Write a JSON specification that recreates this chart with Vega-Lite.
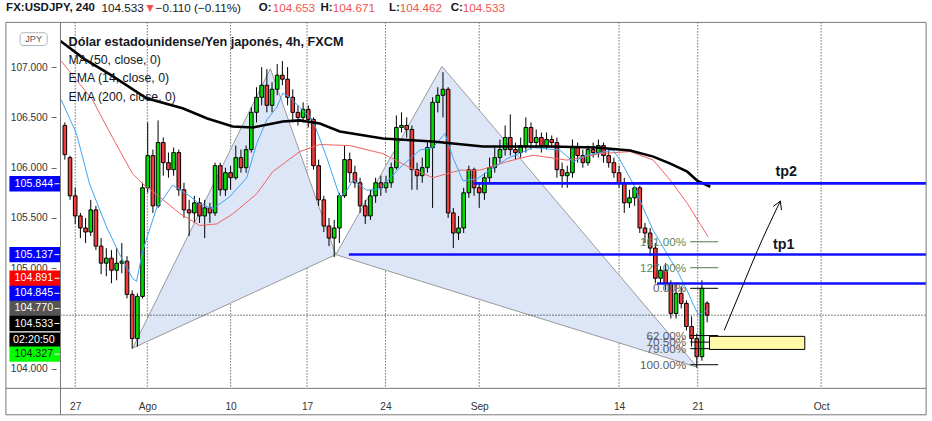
{
"$schema":"https://vega.github.io/schema/vega-lite/v6.json",
"width":932,"height":421,
"autosize":"none",
"padding":0,
"background":"white",
"config":{"view":{"stroke":null}},
"resolve":{"axis":{"x":"independent","y":"independent"}},
"datasets":{
"candles":[
{"d":-0.667,"o":106.42,"h":106.45,"l":106.08,"c":106.13},
{"d":-0.333,"o":106.10,"h":106.12,"l":105.68,"c":105.72},
{"d":0,"o":105.72,"h":105.80,"l":105.44,"c":105.52},
{"d":0.333,"o":105.52,"h":105.55,"l":105.30,"c":105.40},
{"d":0.667,"o":105.40,"h":105.50,"l":105.25,"c":105.36},
{"d":1.0,"o":105.36,"h":105.68,"l":105.32,"c":105.58},
{"d":1.333,"o":105.58,"h":105.62,"l":105.18,"c":105.22},
{"d":1.667,"o":105.22,"h":105.30,"l":104.94,"c":105.05},
{"d":2.0,"o":105.05,"h":105.20,"l":104.92,"c":105.10},
{"d":2.333,"o":105.10,"h":105.18,"l":104.85,"c":104.98},
{"d":2.667,"o":104.98,"h":105.20,"l":104.88,"c":105.05},
{"d":3.0,"o":105.05,"h":105.25,"l":104.95,"c":105.07},
{"d":3.333,"o":105.07,"h":105.12,"l":104.70,"c":104.74},
{"d":3.667,"o":104.74,"h":104.78,"l":104.20,"c":104.30},
{"d":4.0,"o":104.30,"h":104.75,"l":104.22,"c":104.72},
{"d":4.333,"o":104.72,"h":105.85,"l":104.70,"c":105.80},
{"d":4.667,"o":105.80,"h":106.45,"l":105.75,"c":106.12},
{"d":5.0,"o":106.12,"h":106.18,"l":105.55,"c":105.62},
{"d":5.333,"o":105.62,"h":106.47,"l":105.60,"c":106.25},
{"d":5.667,"o":106.25,"h":106.30,"l":105.92,"c":106.05},
{"d":6.0,"o":106.05,"h":106.15,"l":105.90,"c":105.98},
{"d":6.333,"o":105.98,"h":106.20,"l":105.92,"c":106.15},
{"d":6.667,"o":106.15,"h":106.18,"l":105.72,"c":105.78},
{"d":7.0,"o":105.78,"h":105.85,"l":105.50,"c":105.58},
{"d":7.333,"o":105.58,"h":105.68,"l":105.32,"c":105.55},
{"d":7.667,"o":105.55,"h":105.72,"l":105.45,"c":105.65},
{"d":8.0,"o":105.65,"h":105.70,"l":105.45,"c":105.52},
{"d":8.333,"o":105.52,"h":105.68,"l":105.30,"c":105.60},
{"d":8.667,"o":105.60,"h":105.65,"l":105.45,"c":105.55},
{"d":9.0,"o":105.55,"h":106.05,"l":105.52,"c":106.02},
{"d":9.333,"o":106.02,"h":106.05,"l":105.72,"c":105.78},
{"d":9.667,"o":105.78,"h":106.00,"l":105.72,"c":105.95},
{"d":10.0,"o":105.95,"h":106.02,"l":105.78,"c":105.90},
{"d":10.333,"o":105.90,"h":106.22,"l":105.88,"c":106.10},
{"d":10.667,"o":106.10,"h":106.18,"l":105.95,"c":106.00},
{"d":11.0,"o":106.00,"h":106.22,"l":105.95,"c":106.18},
{"d":11.333,"o":106.18,"h":106.60,"l":106.15,"c":106.55},
{"d":11.667,"o":106.55,"h":106.80,"l":106.45,"c":106.70},
{"d":12.0,"o":106.70,"h":107.00,"l":106.62,"c":106.82},
{"d":12.333,"o":106.82,"h":106.98,"l":106.55,"c":106.62},
{"d":12.667,"o":106.62,"h":106.85,"l":106.55,"c":106.78},
{"d":13.0,"o":106.78,"h":107.03,"l":106.72,"c":106.92},
{"d":13.333,"o":106.92,"h":107.06,"l":106.82,"c":106.88},
{"d":13.667,"o":106.88,"h":107.00,"l":106.62,"c":106.70},
{"d":14.0,"o":106.70,"h":106.78,"l":106.45,"c":106.55},
{"d":14.333,"o":106.55,"h":106.62,"l":106.42,"c":106.50},
{"d":14.667,"o":106.50,"h":106.65,"l":106.45,"c":106.58},
{"d":15.0,"o":106.58,"h":106.62,"l":106.40,"c":106.48},
{"d":15.333,"o":106.48,"h":106.50,"l":105.98,"c":106.02},
{"d":15.667,"o":106.02,"h":106.08,"l":105.62,"c":105.68},
{"d":16.0,"o":105.68,"h":105.72,"l":105.36,"c":105.42},
{"d":16.333,"o":105.42,"h":105.50,"l":105.22,"c":105.30},
{"d":16.667,"o":105.30,"h":105.48,"l":105.11,"c":105.40},
{"d":17.0,"o":105.40,"h":105.75,"l":105.25,"c":105.72},
{"d":17.333,"o":105.72,"h":106.22,"l":105.70,"c":106.08},
{"d":17.667,"o":106.08,"h":106.15,"l":105.85,"c":105.95},
{"d":18.0,"o":105.95,"h":106.02,"l":105.80,"c":105.85},
{"d":18.333,"o":105.85,"h":105.90,"l":105.55,"c":105.62},
{"d":18.667,"o":105.62,"h":105.68,"l":105.44,"c":105.52},
{"d":19.0,"o":105.52,"h":105.78,"l":105.48,"c":105.72},
{"d":19.333,"o":105.72,"h":105.90,"l":105.65,"c":105.85},
{"d":19.667,"o":105.85,"h":105.92,"l":105.72,"c":105.80},
{"d":20.0,"o":105.80,"h":105.92,"l":105.75,"c":105.85},
{"d":20.333,"o":105.85,"h":106.05,"l":105.80,"c":106.00},
{"d":20.667,"o":106.00,"h":106.52,"l":105.98,"c":106.40},
{"d":21.0,"o":106.40,"h":106.55,"l":106.35,"c":106.42},
{"d":21.333,"o":106.42,"h":106.50,"l":106.30,"c":106.38},
{"d":21.667,"o":106.38,"h":106.42,"l":105.78,"c":105.98},
{"d":22.0,"o":105.98,"h":106.05,"l":105.78,"c":105.92},
{"d":22.333,"o":105.92,"h":106.10,"l":105.85,"c":106.00},
{"d":22.667,"o":106.00,"h":106.25,"l":105.95,"c":106.20},
{"d":23.0,"o":106.20,"h":106.70,"l":105.60,"c":106.65},
{"d":23.333,"o":106.65,"h":106.80,"l":106.55,"c":106.72},
{"d":23.667,"o":106.72,"h":106.95,"l":106.50,"c":106.78},
{"d":24.0,"o":106.78,"h":106.80,"l":105.50,"c":105.55},
{"d":24.333,"o":105.55,"h":105.60,"l":105.20,"c":105.35},
{"d":24.667,"o":105.35,"h":105.52,"l":105.28,"c":105.40},
{"d":25.0,"o":105.40,"h":105.80,"l":105.35,"c":105.75},
{"d":25.333,"o":105.75,"h":106.02,"l":105.70,"c":105.98},
{"d":25.667,"o":105.98,"h":106.00,"l":105.72,"c":105.80},
{"d":26.0,"o":105.80,"h":105.85,"l":105.60,"c":105.75},
{"d":26.333,"o":105.75,"h":105.95,"l":105.68,"c":105.90},
{"d":26.667,"o":105.90,"h":106.10,"l":105.85,"c":106.00},
{"d":27.0,"o":106.00,"h":106.20,"l":105.95,"c":106.10},
{"d":27.333,"o":106.10,"h":106.28,"l":106.05,"c":106.18},
{"d":27.667,"o":106.18,"h":106.42,"l":106.12,"c":106.30},
{"d":28.0,"o":106.30,"h":106.53,"l":106.12,"c":106.18},
{"d":28.333,"o":106.18,"h":106.25,"l":106.08,"c":106.15},
{"d":28.667,"o":106.15,"h":106.30,"l":106.10,"c":106.22},
{"d":29.0,"o":106.22,"h":106.50,"l":106.15,"c":106.40},
{"d":29.333,"o":106.40,"h":106.45,"l":106.18,"c":106.25},
{"d":29.667,"o":106.25,"h":106.38,"l":106.20,"c":106.30},
{"d":30.0,"o":106.30,"h":106.35,"l":106.15,"c":106.22},
{"d":30.333,"o":106.22,"h":106.35,"l":106.18,"c":106.28},
{"d":30.667,"o":106.28,"h":106.32,"l":106.20,"c":106.25},
{"d":31.0,"o":106.25,"h":106.30,"l":105.90,"c":105.98},
{"d":31.333,"o":105.98,"h":106.05,"l":105.80,"c":105.92},
{"d":31.667,"o":105.92,"h":106.02,"l":105.80,"c":105.95},
{"d":32.0,"o":105.95,"h":106.28,"l":105.90,"c":106.20},
{"d":32.333,"o":106.20,"h":106.25,"l":106.05,"c":106.12},
{"d":32.667,"o":106.12,"h":106.18,"l":106.00,"c":106.05},
{"d":33.0,"o":106.05,"h":106.22,"l":106.02,"c":106.18},
{"d":33.333,"o":106.18,"h":106.25,"l":106.10,"c":106.15},
{"d":33.667,"o":106.15,"h":106.28,"l":106.10,"c":106.22},
{"d":34.0,"o":106.22,"h":106.25,"l":106.05,"c":106.12},
{"d":34.333,"o":106.12,"h":106.18,"l":106.00,"c":106.05},
{"d":34.667,"o":106.05,"h":106.10,"l":105.90,"c":105.95},
{"d":35.0,"o":105.95,"h":106.02,"l":105.80,"c":105.85},
{"d":35.333,"o":105.85,"h":105.90,"l":105.55,"c":105.65},
{"d":35.667,"o":105.65,"h":105.78,"l":105.60,"c":105.70},
{"d":36.0,"o":105.70,"h":105.82,"l":105.62,"c":105.80},
{"d":36.333,"o":105.80,"h":105.82,"l":105.35,"c":105.40},
{"d":36.667,"o":105.40,"h":105.45,"l":105.25,"c":105.35},
{"d":37.0,"o":105.35,"h":105.40,"l":105.12,"c":105.20},
{"d":37.333,"o":105.20,"h":105.25,"l":104.85,"c":104.90},
{"d":37.667,"o":104.90,"h":105.02,"l":104.85,"c":104.98},
{"d":38.0,"o":104.98,"h":105.05,"l":104.78,"c":104.85},
{"d":38.333,"o":104.85,"h":104.88,"l":104.50,"c":104.55},
{"d":38.667,"o":104.55,"h":104.85,"l":104.50,"c":104.75},
{"d":39.0,"o":104.75,"h":104.82,"l":104.60,"c":104.65},
{"d":39.333,"o":104.65,"h":104.68,"l":104.38,"c":104.42},
{"d":39.667,"o":104.42,"h":104.52,"l":104.22,"c":104.30},
{"d":40.0,"o":104.30,"h":104.35,"l":104.01,"c":104.12},
{"d":40.333,"o":104.12,"h":104.88,"l":104.08,"c":104.80},
{"d":40.667,"o":104.653,"h":104.671,"l":104.462,"c":104.533}
],
"ma":[
{"s":"ema200","d":-0.95,"v":107.26},{"s":"ema200","d":0.6,"v":107.08},{"s":"ema200","d":2.21,"v":106.93},{"s":"ema200","d":4.59,"v":106.69},{"s":"ema200","d":6.91,"v":106.59},{"s":"ema200","d":8.5,"v":106.49},{"s":"ema200","d":10.14,"v":106.41},{"s":"ema200","d":11.43,"v":106.40},{"s":"ema200","d":13.36,"v":106.46},{"s":"ema200","d":14.45,"v":106.47},{"s":"ema200","d":15.74,"v":106.44},{"s":"ema200","d":17.03,"v":106.36},{"s":"ema200","d":19.8,"v":106.29},{"s":"ema200","d":23.02,"v":106.26},{"s":"ema200","d":26.24,"v":106.21},{"s":"ema200","d":30.56,"v":106.21},{"s":"ema200","d":33.5,"v":106.2},{"s":"ema200","d":35.72,"v":106.17},{"s":"ema200","d":37.2,"v":106.11},{"s":"ema200","d":38.3,"v":106.04},{"s":"ema200","d":39.39,"v":105.96},{"s":"ema200","d":40.03,"v":105.87},{"s":"ema200","d":40.87,"v":105.81},
{"s":"ma50","d":-0.9,"v":107.06},{"s":"ma50","d":1.11,"v":106.675},{"s":"ma50","d":2.4,"v":106.3},{"s":"ma50","d":3.69,"v":105.94},{"s":"ma50","d":4.34,"v":105.84},{"s":"ma50","d":5.43,"v":105.71},{"s":"ma50","d":6.72,"v":105.545},{"s":"ma50","d":8.01,"v":105.425},{"s":"ma50","d":9.1,"v":105.44},{"s":"ma50","d":10.14,"v":105.54},{"s":"ma50","d":11.68,"v":105.74},{"s":"ma50","d":12.71,"v":105.96},{"s":"ma50","d":14.45,"v":106.16},{"s":"ma50","d":15.74,"v":106.23},{"s":"ma50","d":17.67,"v":106.22},{"s":"ma50","d":19.8,"v":106.14},{"s":"ma50","d":21.54,"v":106.0},{"s":"ma50","d":23.02,"v":105.9},{"s":"ma50","d":24.76,"v":105.975},{"s":"ma50","d":26.05,"v":105.975},{"s":"ma50","d":27.79,"v":106.06},{"s":"ma50","d":29.46,"v":106.125},{"s":"ma50","d":31.65,"v":106.075},{"s":"ma50","d":33.78,"v":106.14},{"s":"ma50","d":35.72,"v":106.16},{"s":"ma50","d":37.2,"v":106.075},{"s":"ma50","d":38.3,"v":105.875},{"s":"ma50","d":39.39,"v":105.645},{"s":"ma50","d":40.74,"v":105.31},
{"s":"ema14","d":-0.9,"v":106.675},{"s":"ema14","d":0.08,"v":106.34},{"s":"ema14","d":0.92,"v":105.84},{"s":"ema14","d":2.02,"v":105.41},{"s":"ema14","d":2.85,"v":105.14},{"s":"ema14","d":3.69,"v":104.9},{"s":"ema14","d":3.95,"v":104.87},{"s":"ema14","d":4.34,"v":105.17},{"s":"ema14","d":5.24,"v":105.6},{"s":"ema14","d":6.27,"v":105.825},{"s":"ema14","d":7.17,"v":105.74},{"s":"ema14","d":8.01,"v":105.64},{"s":"ema14","d":8.85,"v":105.59},{"s":"ema14","d":9.94,"v":105.71},{"s":"ema14","d":11.04,"v":105.9},{"s":"ema14","d":11.68,"v":106.24},{"s":"ema14","d":12.33,"v":106.475},{"s":"ema14","d":12.97,"v":106.6},{"s":"ema14","d":13.36,"v":106.74},{"s":"ema14","d":13.81,"v":106.7},{"s":"ema14","d":14.45,"v":106.6},{"s":"ema14","d":15.29,"v":106.475},{"s":"ema14","d":16.19,"v":106.1},{"s":"ema14","d":17.03,"v":105.71},{"s":"ema14","d":17.48,"v":105.775},{"s":"ema14","d":17.87,"v":105.875},{"s":"ema14","d":18.77,"v":105.775},{"s":"ema14","d":19.61,"v":105.79},{"s":"ema14","d":20.9,"v":106.0},{"s":"ema14","d":22.18,"v":106.175},{"s":"ema14","d":23.02,"v":106.2},{"s":"ema14","d":23.79,"v":106.34},{"s":"ema14","d":24.31,"v":106.1},{"s":"ema14","d":24.95,"v":105.87},{"s":"ema14","d":25.86,"v":105.89},{"s":"ema14","d":26.69,"v":105.975},{"s":"ema14","d":27.79,"v":106.09},{"s":"ema14","d":29.46,"v":106.2},{"s":"ema14","d":31.2,"v":106.175},{"s":"ema14","d":32.04,"v":106.06},{"s":"ema14","d":32.94,"v":106.125},{"s":"ema14","d":34.62,"v":106.175},{"s":"ema14","d":35.07,"v":106.075},{"s":"ema14","d":35.91,"v":105.84},{"s":"ema14","d":36.55,"v":105.6},{"s":"ema14","d":37.2,"v":105.375},{"s":"ema14","d":38.1,"v":105.14},{"s":"ema14","d":38.74,"v":104.975},{"s":"ema14","d":39.39,"v":104.775},{"s":"ema14","d":39.77,"v":104.64},{"s":"ema14","d":40.1,"v":104.54},{"s":"ema14","d":40.42,"v":104.55},{"s":"ema14","d":40.74,"v":104.6}
],
"tri":[
{"g":"XAB","d":3.70,"hi":104.205,"lo":104.205},{"g":"XAB","d":12.56,"hi":106.985,"lo":104.835},{"g":"XAB","d":16.77,"hi":105.135,"lo":105.135},
{"g":"BCD","d":16.77,"hi":105.135,"lo":105.135},{"g":"BCD","d":23.60,"hi":107.008,"lo":104.806},{"g":"BCD","d":40.03,"hi":104.015,"lo":104.015}
],
"weeks":[{"d":0},{"d":4.64},{"d":10},{"d":14.92},{"d":19.97},{"d":26},{"d":35},{"d":40.06},{"d":48}],
"hl":[{"p":105.844,"d":25.62},{"p":105.137,"d":17.61},{"p":104.848,"d":37.45}],
"fib":[
{"p":105.263,"t":"161.00%","g":"g"},{"p":105.005,"t":"127.00%","g":"g"},{"p":104.80,"t":"0.00%","g":"k"},{"p":104.33,"t":"62.00%","g":"k"},{"p":104.265,"t":"70.50%","g":"k"},{"p":104.20,"t":"79.00%","g":"k"},{"p":104.04,"t":"100.00%","g":"k"}
],
"zone":[{"d1":40.82,"d2":46.95,"p1":104.322,"p2":104.192}],
"arrow":[{"d":41.77,"p":104.382},{"d":43.0,"p":104.842},{"d":43.9,"p":105.175},{"d":45.38,"p":105.668}],
"head":[{"o":1,"d":44.92,"p":105.614},{"o":2,"d":45.38,"p":105.668},{"o":3,"d":45.45,"p":105.579}],
"tags":[
{"p":105.84,"t":"105.844","k":"blue"},{"p":105.135,"t":"105.137","k":"blue"},{"p":104.90,"t":"104.891","k":"red"},{"p":104.75,"t":"104.845","k":"blue"},{"p":104.60,"t":"104.770","k":"grey"},{"p":104.45,"t":"104.533","k":"black"},{"p":104.285,"t":"02:20:50","k":"clock"},{"p":104.145,"t":"104.327","k":"green"}
],
"txt":[
{"g":"hb","d":-4.446,"p":107.585,"t":"FX:USDJPY, 240"},
{"g":"h","d":1.695,"p":107.585,"t":"104.533"},
{"g":"tri","d":4.594,"p":107.585,"t":"▼"},
{"g":"h","d":5.174,"p":107.585,"t":"−0.110 (−0.11%)"},
{"g":"hb","d":11.81,"p":107.585,"t":"O:"},
{"g":"hr","d":12.72,"p":107.585,"t":"104.653"},
{"g":"hb","d":15.79,"p":107.585,"t":"H:"},
{"g":"hr","d":16.58,"p":107.585,"t":"104.671"},
{"g":"hb","d":20.19,"p":107.585,"t":"L:"},
{"g":"hr","d":20.89,"p":107.585,"t":"104.462"},
{"g":"hb","d":24.16,"p":107.585,"t":"C:"},
{"g":"hr","d":24.94,"p":107.585,"t":"104.533"},
{"g":"lt","d":-0.425,"p":107.25,"t":"Dólar estadounidense/Yen japonés, 4h, FXCM"},
{"g":"l","d":-0.425,"p":107.075,"t":"MA (50, close, 0)"},
{"g":"l","d":-0.425,"p":106.895,"t":"EMA (14, close, 0)"},
{"g":"l","d":-0.425,"p":106.705,"t":"EMA (200, close, 0)"},
{"g":"tp","d":45.76,"p":105.955,"t":"tp2"},
{"g":"tp","d":45.6,"p":105.235,"t":"tp1"}
]
},
"layer":[
{"data":{"name":"weeks"},"mark":{"type":"rule","color":"#000","strokeDash":[1,2],"strokeWidth":1,"opacity":0.85},
 "encoding":{"x":{"field":"d","type":"quantitative","scale":{"domain":[-4.518,54.816],"nice":false,"zero":false},"axis":null},
 "y":{"datum":107.445,"type":"quantitative","scale":{"domain":[103.53,107.618],"nice":false,"zero":false},"axis":null},
 "y2":{"datum":103.805}}},
{"data":{"name":"tri"},"mark":{"type":"area","fill":"#dce6f7","stroke":"#9a9a9a","strokeWidth":1},
 "encoding":{"x":{"field":"d","type":"quantitative","scale":{"domain":[-4.518,54.816],"nice":false,"zero":false},"axis":null},
 "y":{"field":"hi","type":"quantitative","scale":{"domain":[103.53,107.618],"nice":false,"zero":false},"axis":null},
 "y2":{"field":"lo"},"detail":{"field":"g"}}},
{"data":{"name":"candles"},"mark":{"type":"rule","color":"#000","strokeWidth":1},
 "encoding":{"x":{"field":"d","type":"quantitative","scale":{"domain":[-4.518,54.816],"nice":false,"zero":false},"axis":null},
 "y":{"field":"l","type":"quantitative","scale":{"domain":[103.53,107.618],"nice":false,"zero":false},"axis":null},
 "y2":{"field":"h"}}},
{"data":{"name":"candles"},"mark":{"type":"bar","width":3.6,"stroke":"#000","strokeWidth":1},
 "encoding":{"x":{"field":"d","type":"quantitative","scale":{"domain":[-4.518,54.816],"nice":false,"zero":false},
   "axis":{"orient":"bottom","offset":-28.3,"values":[0,4.64,10,14.92,19.97,26,35,40.06,48],"labelExpr":"datum.value<1?'27':datum.value<5?'Ago':datum.value<11?'10':datum.value<15?'17':datum.value<21?'24':datum.value<27?'Sep':datum.value<36?'14':datum.value<41?'21':'Oct'","grid":false,"ticks":false,"tickSize":0,"domain":false,"labelPadding":9,"labelFont":"Liberation Sans","labelFontSize":10.2,"labelColor":"#333","labelFlush":false,"labelOverlap":false,"title":null,"zindex":0}},
 "y":{"field":"o","type":"quantitative","scale":{"domain":[103.53,107.618],"nice":false,"zero":false},
   "axis":{"orient":"left","offset":-56.1,"values":[104,105,105.5,106,106.5,107],"format":".3f","grid":false,"ticks":true,"tickSize":5,"tickColor":"#666","domain":false,"labelPadding":4,"labelFont":"Liberation Sans","labelFontSize":10.2,"labelColor":"#333","labelOverlap":false,"title":null,"zindex":0}},
 "y2":{"field":"c"},
 "fill":{"condition":{"test":"datum.c>=datum.o","value":"#00e000"},"value":"#f23c3c"}}},
{"data":{"name":"ma"},"transform":[{"filter":"datum.s=='ma50'"}],"mark":{"type":"line","color":"#f26262","strokeWidth":1},
 "encoding":{"x":{"field":"d","type":"quantitative","scale":{"domain":[-4.518,54.816],"nice":false,"zero":false},"axis":null},
 "y":{"field":"v","type":"quantitative","scale":{"domain":[103.53,107.618],"nice":false,"zero":false},"axis":null}}},
{"data":{"name":"ma"},"transform":[{"filter":"datum.s=='ema14'"}],"mark":{"type":"line","color":"#3ea6f2","strokeWidth":1},
 "encoding":{"x":{"field":"d","type":"quantitative","scale":{"domain":[-4.518,54.816],"nice":false,"zero":false},"axis":null},
 "y":{"field":"v","type":"quantitative","scale":{"domain":[103.53,107.618],"nice":false,"zero":false},"axis":null}}},
{"data":{"name":"ma"},"transform":[{"filter":"datum.s=='ema200'"}],"mark":{"type":"line","color":"#000","strokeWidth":2.6},
 "encoding":{"x":{"field":"d","type":"quantitative","scale":{"domain":[-4.518,54.816],"nice":false,"zero":false},"axis":null},
 "y":{"field":"v","type":"quantitative","scale":{"domain":[103.53,107.618],"nice":false,"zero":false},"axis":null}}},
{"data":{"name":"hl"},"mark":{"type":"rule","color":"#1010ff","strokeWidth":2.6},
 "encoding":{"x":{"field":"d","type":"quantitative","scale":{"domain":[-4.518,54.816],"nice":false,"zero":false},"axis":null},
 "x2":{"datum":54.759},
 "y":{"field":"p","type":"quantitative","scale":{"domain":[103.53,107.618],"nice":false,"zero":false},"axis":null}}},
{"data":{"name":"fib"},"mark":{"type":"rule","strokeWidth":1},
 "encoding":{"x":{"datum":39.58,"type":"quantitative","scale":{"domain":[-4.518,54.816],"nice":false,"zero":false},"axis":null},
 "x2":{"datum":41.38},
 "y":{"field":"p","type":"quantitative","scale":{"domain":[103.53,107.618],"nice":false,"zero":false},"axis":null},
 "color":{"condition":{"test":"datum.g=='g'","value":"#4b7d4b"},"value":"#000"}}},
{"data":{"name":"fib"},"mark":{"type":"text","align":"right","baseline":"middle","font":"Liberation Sans","fontSize":11.7},
 "encoding":{"x":{"datum":39.32,"type":"quantitative","scale":{"domain":[-4.518,54.816],"nice":false,"zero":false},"axis":null},
 "y":{"field":"p","type":"quantitative","scale":{"domain":[103.53,107.618],"nice":false,"zero":false},"axis":null},
 "text":{"field":"t"},
 "color":{"condition":{"test":"datum.g=='g'","value":"#5a8a5a"},"value":"#5c5c5c"}}},
{"data":{"name":"zone"},"mark":{"type":"rect","fill":"#fff9a8","stroke":"#000","strokeWidth":1},
 "encoding":{"x":{"field":"d1","type":"quantitative","scale":{"domain":[-4.518,54.816],"nice":false,"zero":false},"axis":null},
 "x2":{"field":"d2"},
 "y":{"field":"p1","type":"quantitative","scale":{"domain":[103.53,107.618],"nice":false,"zero":false},"axis":null},
 "y2":{"field":"p2"}}},
{"data":{"name":"arrow"},"mark":{"type":"line","color":"#000","strokeWidth":1,"interpolate":"monotone"},
 "encoding":{"x":{"field":"d","type":"quantitative","scale":{"domain":[-4.518,54.816],"nice":false,"zero":false},"axis":null},
 "y":{"field":"p","type":"quantitative","scale":{"domain":[103.53,107.618],"nice":false,"zero":false},"axis":null}}},
{"data":{"name":"head"},"mark":{"type":"line","color":"#000","strokeWidth":1},
 "encoding":{"x":{"field":"d","type":"quantitative","scale":{"domain":[-4.518,54.816],"nice":false,"zero":false},"axis":null},
 "y":{"field":"p","type":"quantitative","scale":{"domain":[103.53,107.618],"nice":false,"zero":false},"axis":null},
 "order":{"field":"o"}}},
{"data":{"name":"txt"},"transform":[{"filter":"datum.g=='tp'"}],"mark":{"type":"text","align":"center","baseline":"middle","font":"Liberation Sans","fontSize":14.3,"fontWeight":"bold","color":"#131722"},
 "encoding":{"x":{"field":"d","type":"quantitative","scale":{"domain":[-4.518,54.816],"nice":false,"zero":false},"axis":null},
 "y":{"field":"p","type":"quantitative","scale":{"domain":[103.53,107.618],"nice":false,"zero":false},"axis":null},
 "text":{"field":"t"}}},
{"data":{"values":[{}]},"mark":{"type":"rule","color":"#000","strokeDash":[1,2],"strokeWidth":1},
 "encoding":{"x":{"datum":-0.947,"type":"quantitative","scale":{"domain":[-4.518,54.816],"nice":false,"zero":false},"axis":null},
 "x2":{"datum":54.759},
 "y":{"datum":104.533,"type":"quantitative","scale":{"domain":[103.53,107.618],"nice":false,"zero":false},"axis":null}}},
{"data":{"name":"tags"},"mark":{"type":"bar","orient":"horizontal","height":15.4},
 "encoding":{"x":{"datum":-4.233,"type":"quantitative","scale":{"domain":[-4.518,54.816],"nice":false,"zero":false},"axis":null},
 "x2":{"datum":-0.947},
 "y":{"field":"p","type":"quantitative","scale":{"domain":[103.53,107.618],"nice":false,"zero":false},"axis":null},
 "fill":{"condition":[{"test":"datum.k=='blue'","value":"#0000ff"},{"test":"datum.k=='red'","value":"#ff0000"},{"test":"datum.k=='grey'","value":"#555555"},{"test":"datum.k=='green'","value":"#00ff00"}],"value":"#000000"}}},
{"data":{"name":"tags"},"transform":[{"filter":"datum.k!='clock'"}],"mark":{"type":"rule","color":"#ffffff","strokeWidth":1},
 "encoding":{"x":{"datum":-1.334,"type":"quantitative","scale":{"domain":[-4.518,54.816],"nice":false,"zero":false},"axis":null},
 "x2":{"datum":-1.012},
 "y":{"field":"p","type":"quantitative","scale":{"domain":[103.53,107.618],"nice":false,"zero":false},"axis":null}}},
{"data":{"name":"tags"},"mark":{"type":"text","align":"center","baseline":"middle","font":"Liberation Sans","fontSize":10.7},
 "encoding":{"x":{"datum":-2.66,"type":"quantitative","scale":{"domain":[-4.518,54.816],"nice":false,"zero":false},"axis":null},
 "y":{"field":"p","type":"quantitative","scale":{"domain":[103.53,107.618],"nice":false,"zero":false},"axis":null},
 "text":{"field":"t"},
 "fill":{"condition":{"test":"datum.k=='green'","value":"#1a1a1a"},"value":"#ffffff"}}},
{"data":{"values":[{}]},"mark":{"type":"rect","fill":"#ffffff","stroke":"#b2b5be","strokeWidth":1,"cornerRadius":3},
 "encoding":{"x":{"datum":-3.544,"type":"quantitative","scale":{"domain":[-4.518,54.816],"nice":false,"zero":false},"axis":null},
 "x2":{"datum":-1.804},
 "y":{"datum":107.342,"type":"quantitative","scale":{"domain":[103.53,107.618],"nice":false,"zero":false},"axis":null},
 "y2":{"datum":107.215}}},
{"data":{"values":[{"t":"JPY"}]},"mark":{"type":"text","align":"center","baseline":"middle","font":"Liberation Sans","fontSize":9.2,"color":"#555"},
 "encoding":{"x":{"datum":-2.674,"type":"quantitative","scale":{"domain":[-4.518,54.816],"nice":false,"zero":false},"axis":null},
 "y":{"datum":107.278,"type":"quantitative","scale":{"domain":[103.53,107.618],"nice":false,"zero":false},"axis":null},
 "text":{"field":"t"}}},
{"data":{"name":"txt"},"transform":[{"filter":"datum.g=='hb'"}],"mark":{"type":"text","align":"left","baseline":"middle","font":"Liberation Sans","fontSize":11.5,"fontWeight":"bold","color":"#131722"},
 "encoding":{"x":{"field":"d","type":"quantitative","scale":{"domain":[-4.518,54.816],"nice":false,"zero":false},"axis":null},
 "y":{"field":"p","type":"quantitative","scale":{"domain":[103.53,107.618],"nice":false,"zero":false},"axis":null},
 "text":{"field":"t"}}},
{"data":{"name":"txt"},"transform":[{"filter":"datum.g=='h'"}],"mark":{"type":"text","align":"left","baseline":"middle","font":"Liberation Sans","fontSize":11.7,"color":"#131722"},
 "encoding":{"x":{"field":"d","type":"quantitative","scale":{"domain":[-4.518,54.816],"nice":false,"zero":false},"axis":null},
 "y":{"field":"p","type":"quantitative","scale":{"domain":[103.53,107.618],"nice":false,"zero":false},"axis":null},
 "text":{"field":"t"}}},
{"data":{"name":"txt"},"transform":[{"filter":"datum.g=='hr'"}],"mark":{"type":"text","align":"left","baseline":"middle","font":"Liberation Sans","fontSize":11.7,"color":"#f05350"},
 "encoding":{"x":{"field":"d","type":"quantitative","scale":{"domain":[-4.518,54.816],"nice":false,"zero":false},"axis":null},
 "y":{"field":"p","type":"quantitative","scale":{"domain":[103.53,107.618],"nice":false,"zero":false},"axis":null},
 "text":{"field":"t"}}},
{"data":{"name":"txt"},"transform":[{"filter":"datum.g=='tri'"}],"mark":{"type":"text","align":"left","baseline":"middle","font":"DejaVu Sans","fontSize":9.2,"color":"#f05350"},
 "encoding":{"x":{"field":"d","type":"quantitative","scale":{"domain":[-4.518,54.816],"nice":false,"zero":false},"axis":null},
 "y":{"field":"p","type":"quantitative","scale":{"domain":[103.53,107.618],"nice":false,"zero":false},"axis":null},
 "text":{"field":"t"}}},
{"data":{"name":"txt"},"transform":[{"filter":"datum.g=='lt'"}],"mark":{"type":"text","align":"left","baseline":"middle","font":"Liberation Sans","fontSize":12.7,"fontWeight":"bold","color":"#131722"},
 "encoding":{"x":{"field":"d","type":"quantitative","scale":{"domain":[-4.518,54.816],"nice":false,"zero":false},"axis":null},
 "y":{"field":"p","type":"quantitative","scale":{"domain":[103.53,107.618],"nice":false,"zero":false},"axis":null},
 "text":{"field":"t"}}},
{"data":{"name":"txt"},"transform":[{"filter":"datum.g=='l'"}],"mark":{"type":"text","align":"left","baseline":"middle","font":"Liberation Sans","fontSize":12.3,"color":"#131722"},
 "encoding":{"x":{"field":"d","type":"quantitative","scale":{"domain":[-4.518,54.816],"nice":false,"zero":false},"axis":null},
 "y":{"field":"p","type":"quantitative","scale":{"domain":[103.53,107.618],"nice":false,"zero":false},"axis":null},
 "text":{"field":"t"}}},
{"data":{"values":[{}]},"mark":{"type":"rect","fill":"transparent","stroke":"#787878","strokeWidth":1},
 "encoding":{"x":{"datum":-4.459,"type":"quantitative","scale":{"domain":[-4.518,54.816],"nice":false,"zero":false},"axis":null},
 "x2":{"datum":54.759},
 "y":{"datum":107.445,"type":"quantitative","scale":{"domain":[103.53,107.618],"nice":false,"zero":false},"axis":null},
 "y2":{"datum":103.542}}},
{"data":{"values":[{}]},"mark":{"type":"rule","stroke":"#787878","strokeWidth":1},
 "encoding":{"x":{"datum":-0.947,"type":"quantitative","scale":{"domain":[-4.518,54.816],"nice":false,"zero":false},"axis":null},
 "y":{"datum":107.445,"type":"quantitative","scale":{"domain":[103.53,107.618],"nice":false,"zero":false},"axis":null},
 "y2":{"datum":103.542}}},
{"data":{"values":[{}]},"mark":{"type":"rule","stroke":"#787878","strokeWidth":1},
 "encoding":{"x":{"datum":-4.459,"type":"quantitative","scale":{"domain":[-4.518,54.816],"nice":false,"zero":false},"axis":null},
 "x2":{"datum":54.759},
 "y":{"datum":103.805,"type":"quantitative","scale":{"domain":[103.53,107.618],"nice":false,"zero":false},"axis":null}}}
]
}
